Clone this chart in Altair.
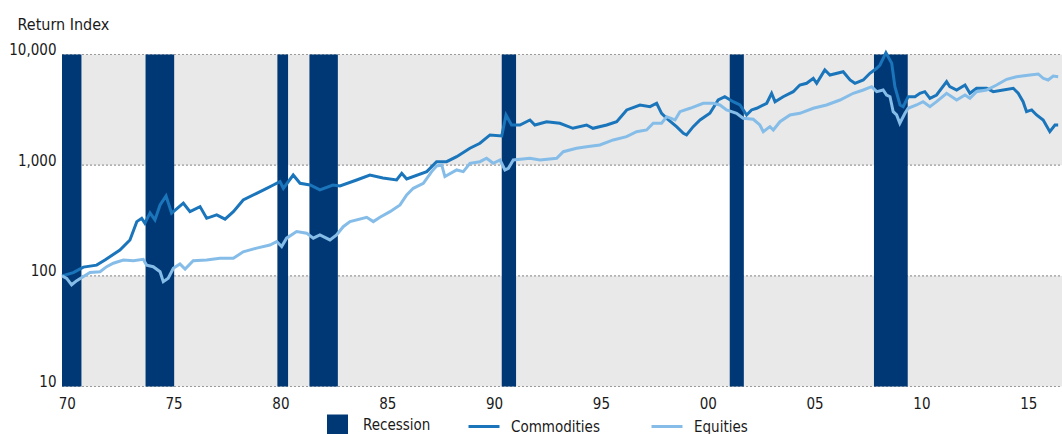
import altair as alt
import pandas as pd

# NBER recessions (decimal years)
rec_start = [1969.92, 1973.83, 1980.00, 1981.50, 1990.50, 2001.17, 2007.92]
rec_end = [1970.83, 1975.17, 1980.50, 1982.83, 1991.17, 2001.83, 2009.50]

# Commodities total return index
comm_years = [1969.92, 1970.45, 1970.92, 1971.54, 1971.93, 1972.63, 1973.10, 1973.42, 1973.65, 1973.80,
              1974.04, 1974.27, 1974.51, 1974.79, 1975.05, 1975.60, 1975.91, 1976.38, 1976.69, 1977.16,
              1977.55, 1977.94, 1978.40, 1979.03, 1979.50, 1979.81, 1980.12, 1980.28, 1980.74, 1981.06,
              1981.53, 1981.99, 1982.60, 1982.93, 1983.71, 1984.33, 1984.94, 1985.58, 1985.82, 1986.05,
              1986.99, 1987.45, 1987.92, 1988.39, 1989.01, 1989.48, 1989.95, 1990.50, 1990.70, 1990.96,
              1991.35, 1991.82, 1992.05, 1992.60, 1993.22, 1993.83, 1994.47, 1994.77, 1995.41, 1995.88,
              1996.35, 1996.97, 1997.44, 1997.75, 1997.98, 1998.22, 1998.68, 1999.00, 1999.15, 1999.46,
              1999.78, 2000.24, 2000.63, 2000.94, 2001.33, 2001.65, 2001.96, 2002.19, 2002.43, 2002.90,
              2003.13, 2003.29, 2003.67, 2004.14, 2004.45, 2004.77, 2005.08, 2005.24, 2005.62, 2005.86,
              2006.48, 2006.80, 2007.03, 2007.42, 2007.73, 2008.05, 2008.20, 2008.48, 2008.75, 2008.90,
              2009.14, 2009.29, 2009.52, 2009.84, 2010.07, 2010.30, 2010.54, 2010.85, 2011.32, 2011.47,
              2011.79, 2012.18, 2012.41, 2012.72, 2013.19, 2013.50, 2013.97, 2014.44, 2014.67, 2014.90,
              2015.06, 2015.30, 2015.53, 2015.84, 2016.15, 2016.39, 2016.54]
comm_values = [100, 107, 120, 125, 139, 171, 211, 309, 331, 299,
               370, 320, 437, 527, 368, 453, 380, 422, 331, 355,
               325, 380, 485, 557, 618, 662, 710, 618, 815, 686,
               662, 597, 662, 649, 735, 815, 766, 735, 845, 750,
               874, 1075, 1075, 1194, 1422, 1577, 1875, 1836, 2842, 2307,
               2307, 2560, 2307, 2470, 2391, 2154, 2307, 2154, 2307, 2470,
               3155, 3498, 3377, 3625, 2942, 2653, 2228, 1942, 1875, 2228,
               2560, 2942, 3880, 4155, 3747, 3498, 2842, 3155, 3266, 3625,
               4462, 3747, 4155, 4613, 5303, 5495, 6095, 5495, 7244, 6528,
               6993, 5883, 5495, 5883, 6761, 7506, 8036, 10380, 8326, 5117,
               3498, 3377, 4155, 4155, 4462, 4613, 4020, 4307, 5677, 5117,
               4779, 5303, 4462, 4951, 4951, 4613, 4779, 4951, 4462, 3747,
               3042, 3155, 2842, 2560, 2008, 2307, 2307]

# Equities total return index
eq_years = [1969.92, 1970.14, 1970.37, 1970.61, 1971.23, 1971.70, 1972.01, 1972.32, 1972.79, 1973.26,
            1973.72, 1973.88, 1974.19, 1974.51, 1974.66, 1974.89, 1975.13, 1975.44, 1975.68, 1976.06,
            1976.69, 1977.31, 1977.94, 1978.40, 1979.03, 1979.65, 1979.97, 1980.20, 1980.43, 1980.90,
            1981.37, 1981.68, 1981.99, 1982.46, 1982.77, 1983.08, 1983.40, 1984.18, 1984.49, 1984.80,
            1985.27, 1985.74, 1986.05, 1986.36, 1986.83, 1987.22, 1987.45, 1987.69, 1987.84, 1988.39,
            1988.70, 1989.01, 1989.48, 1989.79, 1990.10, 1990.42, 1990.65, 1990.81, 1991.04, 1991.82,
            1992.29, 1993.07, 1993.38, 1994.00, 1994.47, 1995.09, 1995.72, 1996.34, 1996.81, 1997.28,
            1997.59, 1997.98, 1998.22, 1998.61, 1998.84, 1999.31, 1999.93, 2000.40, 2000.71, 2001.02,
            2001.49, 2001.80, 2002.27, 2002.58, 2002.74, 2003.05, 2003.21, 2003.52, 2003.99, 2004.45,
            2005.08, 2005.70, 2006.33, 2006.95, 2007.42, 2007.81, 2008.05, 2008.35, 2008.51, 2008.67,
            2008.82, 2008.98, 2009.13, 2009.37, 2009.52, 2009.91, 2010.22, 2010.54, 2010.85, 2011.32,
            2011.79, 2012.18, 2012.41, 2012.72, 2013.19, 2013.66, 2014.13, 2014.59, 2015.22, 2015.61,
            2015.84, 2016.07, 2016.31, 2016.54]
eq_values = [100, 95, 83, 90.5, 107, 109, 121, 130, 139, 137,
             141, 125, 121, 109, 88.6, 95, 117, 128, 115, 137,
             139, 144, 144, 165, 178, 190, 204, 184, 219, 251,
             243, 219, 234, 211, 234, 278, 309, 338, 309, 338,
             380, 437, 538, 618, 686, 874, 984, 1004, 788, 905,
             874, 1040, 1075, 1154, 1040, 1114, 905, 937, 1114, 1154,
             1114, 1154, 1324, 1422, 1469, 1522, 1690, 1809, 2008, 2080,
             2391, 2391, 2742, 2560, 3042, 3266, 3625, 3625, 3498, 3155,
             2942, 2653, 2599, 2307, 2008, 2228, 2080, 2470, 2842, 2942,
             3266, 3498, 3880, 4462, 4779, 5117, 4613, 4779, 4307, 4155,
             3042, 2842, 2391, 2942, 3266, 3498, 3747, 3377, 3747, 4462,
             3880, 4307, 4020, 4613, 4779, 5303, 5970, 6302, 6528, 6668,
             6095, 5883, 6393, 6302]

series_names = ["Commodities", "Equities"]
year_ticks = [1970, 1975, 1980, 1985, 1990, 1995, 2000, 2005, 2010, 2015]
value_ticks = [10, 100, 1000, 10000]
band_lo = [10, 1000]
band_hi = [100, 10000]

NAVY = "#003876"
COMM = "#1b75bb"
EQ = "#85bde8"
BAND = "#e9e9e9"
TEXT = "#1a1a1a"
FONT = "DejaVu Sans Condensed, Liberation Sans Narrow, Roboto, sans-serif"
FS = 15

lines_df = pd.concat([
    pd.DataFrame({"year": comm_years, "value": comm_values, "series": series_names[0]}),
    pd.DataFrame({"year": eq_years, "value": eq_values, "series": series_names[1]}),
])
rec_df = pd.DataFrame({"start": rec_start, "end": rec_end, "kind": "Recession"})
band_df = pd.DataFrame({"lo": band_lo, "hi": band_hi})
grid_df = pd.DataFrame({"v": value_ticks})

x_scale = alt.Scale(domain=[1969.92, 2016.72], nice=False, zero=False)
y_scale = alt.Scale(type="log", domain=[10, 10000], nice=False)

y_axis = alt.Axis(
    values=value_ticks, format=",d", grid=False, ticks=False, domain=False,
    labelPadding=6, labelBaseline="alphabetic", labelFontSize=FS, labelColor=TEXT,
    title="Return Index", titleAngle=0, titleAlign="left", titleBaseline="alphabetic",
    titleX=-45, titleY=-25, titleFontSize=16, titleFontWeight="normal", titleColor=TEXT,
)
x_axis = alt.Axis(
    values=year_ticks, format="d", labelExpr="substring(datum.label, 2)",
    grid=False, ticks=False, domain=False, labelPadding=10, labelOffset=3,
    labelFontSize=FS, labelColor=TEXT, title=None,
)

# grey bands behind alternate decades
bands = alt.Chart(band_df).mark_rect(color=BAND).encode(
    x=alt.value(0), x2=alt.value("width"),
    y=alt.Y("lo:Q", scale=y_scale, axis=y_axis), y2="hi:Q",
)

# dotted decade gridlines
grid = alt.Chart(grid_df).mark_rule(color="#9a9a9a", strokeDash=[2, 2], strokeWidth=1.2).encode(
    x=alt.value(0), x2=alt.value("width"),
    y=alt.Y("v:Q", scale=y_scale, axis=y_axis),
)

recessions = alt.Chart(rec_df).mark_rect().encode(
    x=alt.X("start:Q", scale=x_scale, axis=x_axis), x2="end:Q",
    y=alt.value(0), y2=alt.value("height"),
    fill=alt.Fill("kind:N", scale=alt.Scale(domain=["Recession"], range=[NAVY]),
                  legend=alt.Legend(orient="none", legendX=265, legendY=360, title=None,
                                    symbolType="square", symbolSize=441, symbolStrokeWidth=0,
                                    labelFontSize=FS, labelColor=TEXT, labelOffset=15, padding=0)),
)

lines = alt.Chart(lines_df).mark_line(strokeWidth=3).encode(
    x=alt.X("year:Q", scale=x_scale, axis=x_axis),
    y=alt.Y("value:Q", scale=y_scale, axis=y_axis),
    color=alt.Color("series:N", scale=alt.Scale(domain=series_names, range=[COMM, EQ]),
                    legend=alt.Legend(orient="none", legendX=405, legendY=355, title=None,
                                      direction="horizontal", symbolType="stroke", symbolSize=961,
                                      symbolStrokeWidth=3, labelFontSize=FS, labelColor=TEXT,
                                      labelOffset=10, columnPadding=45, padding=0)),
    detail="series:N",
    order="year:Q",
)

chart = alt.layer(bands, grid, recessions, lines).properties(
    width=1000, height=332,
    padding={"left": 62, "top": 54.5, "right": 0, "bottom": 47.5},
    autosize=alt.AutoSizeParams(type="none"),
).configure(font=FONT).configure_view(stroke=None)

chart.save("out.html", embed_options={"renderer": "svg", "actions": False})
